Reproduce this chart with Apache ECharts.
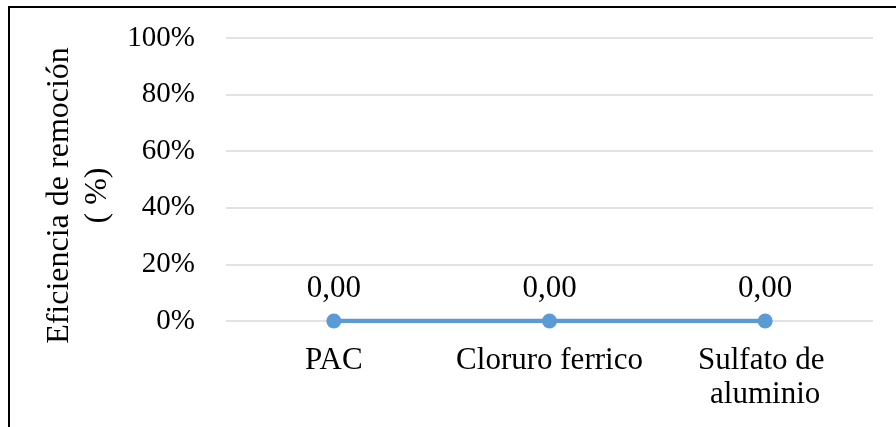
<!DOCTYPE html>
<html>
<head>
<meta charset="utf-8">
<script src="https://cdn.jsdelivr.net/npm/echarts@6/dist/echarts.min.js"></script>
<style>
  html, body { margin: 0; padding: 0; background: #ffffff; }
  #chart { width: 896px; height: 427px; }
</style>
</head>
<body>
<div id="chart"></div>
<script>
// Coagulants compared
const categories = ['PAC', 'Cloruro ferrico', 'Sulfato de aluminio'];
// Removal efficiency (fraction, shown as %)
const efficiency = [0, 0, 0];
// Value axis ticks (fraction)
const yTicks = [0, 0.2, 0.4, 0.6, 0.8, 1.0];

const FONT = '"Liberation Serif", "Times New Roman", serif';
const chart = echarts.init(document.getElementById('chart'), null, { renderer: 'canvas' });

chart.setOption({
  backgroundColor: '#ffffff',
  animation: false,
  graphic: [{
    type: 'rect',
    shape: { x: 9, y: 7, width: 900, height: 440 },
    style: { fill: 'none', stroke: '#000000', lineWidth: 2 },
    silent: true,
    z: 100
  }],
  grid: { left: 226, right: 23, top: 38, bottom: 106, containLabel: false },
  xAxis: {
    type: 'category',
    data: categories,
    boundaryGap: true,
    axisLine: { show: false },
    axisTick: { show: false },
    axisLabel: {
      interval: 0,
      margin: 23,
      width: 205,
      overflow: 'break',
      align: 'center',
      color: '#000000',
      fontFamily: FONT,
      fontSize: 31,
      lineHeight: 34
    }
  },
  yAxis: {
    type: 'value',
    min: yTicks[0],
    max: yTicks[yTicks.length - 1],
    interval: yTicks[1] - yTicks[0],
    name: 'Eficiencia de remoción\n( %)',
    nameLocation: 'middle',
    nameRotate: 90,
    nameGap: 106,
    nameTextStyle: {
      color: '#000000',
      fontFamily: FONT,
      fontSize: 32,
      lineHeight: 38,
      align: 'center',
      padding: [0, 32, 0, 0]
    },
    axisLine: { show: false },
    axisTick: { show: false },
    splitLine: { show: true, lineStyle: { color: '#d9d9d9', width: 1.5 } },
    axisLabel: {
      margin: 31,
      color: '#000000',
      fontFamily: FONT,
      fontSize: 29,
      formatter: function (v) { return Math.round(v * 100) + '%'; }
    }
  },
  series: [{
    type: 'line',
    data: efficiency,
    symbol: 'circle',
    symbolSize: 15,
    lineStyle: { color: '#5b9bd5', width: 4.5 },
    itemStyle: { color: '#5b9bd5' },
    label: {
      show: true,
      position: 'top',
      distance: 9,
      color: '#000000',
      fontFamily: FONT,
      fontSize: 31,
      formatter: function (p) { return p.value.toFixed(2).replace('.', ','); }
    }
  }]
});
</script>
</body>
</html>
